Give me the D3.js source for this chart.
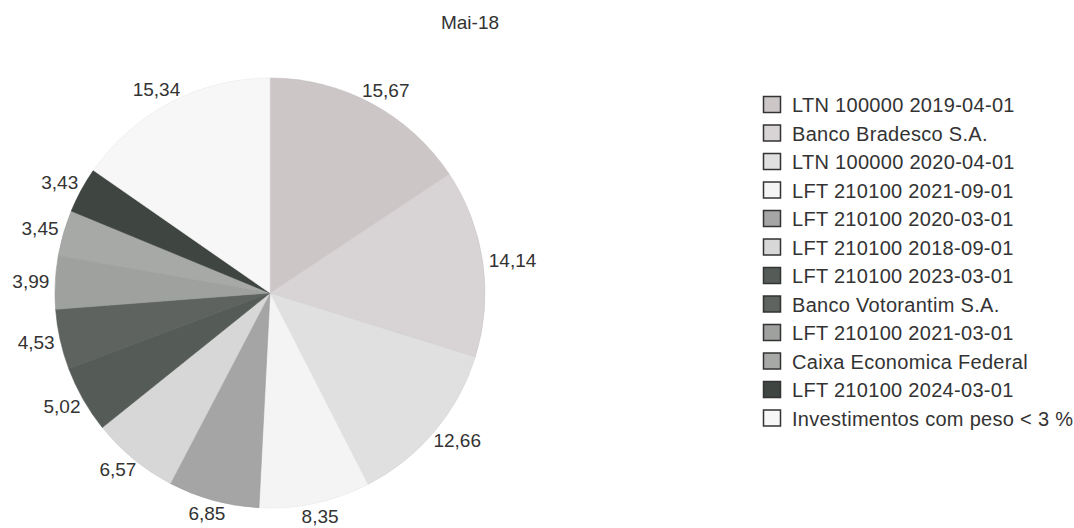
<!DOCTYPE html>
<html>
<head>
<meta charset="utf-8">
<script src="https://cdn.jsdelivr.net/npm/d3@7"></script>
<style>
  body { margin: 0; background: #fff; }
  svg text { font-family: "Liberation Sans", Arial, sans-serif; fill: #333; }
</style>
</head>
<body>
<svg id="chart" width="1074" height="528"></svg>
<script>
// dados do gráfico
const title = "Mai-18";
const categories = [
  "LTN 100000 2019-04-01",
  "Banco Bradesco S.A.",
  "LTN 100000 2020-04-01",
  "LFT 210100 2021-09-01",
  "LFT 210100 2020-03-01",
  "LFT 210100 2018-09-01",
  "LFT 210100 2023-03-01",
  "Banco Votorantim S.A.",
  "LFT 210100 2021-03-01",
  "Caixa Economica Federal",
  "LFT 210100 2024-03-01",
  "Investimentos com peso < 3 %"
];
const values = [15.67, 14.14, 12.66, 8.35, 6.85, 6.57, 5.02, 4.53, 3.99, 3.45, 3.43, 15.34];

// cores (tons de cinza, como no original)
const sliceColors = [
  "#cdc6c7", "#d8d3d4", "#e0e0e0", "#f4f4f4",
  "#a4a5a4", "#d7d7d7", "#555c57", "#5e635f",
  "#9fa19f", "#a7a9a7", "#3f4641", "#f7f7f7"
];

const cx = 270, cy = 293, radius = 215;
const labelGap = 6;

const svg = d3.select("#chart");
const locale = d3.formatLocale({ decimal: ",", thousands: ".", grouping: [3], currency: ["R$", ""] });
const fmt = locale.format(".2f");

const color = d3.scaleOrdinal().domain(categories).range(sliceColors);

svg.append("text")
  .attr("x", 470)
  .attr("y", 29)
  .attr("text-anchor", "middle")
  .attr("font-size", 19)
  .text(title);

const data = categories.map((c, i) => ({ name: c, value: values[i] }));

const pie = d3.pie().value((d) => d.value).sort(null);
const arcs = pie(data);

const arc = d3.arc().innerRadius(0).outerRadius(radius);
const labelArc = d3.arc().innerRadius(radius + labelGap).outerRadius(radius + labelGap);

const g = svg.append("g").attr("transform", `translate(${cx},${cy})`);

g.selectAll("path")
  .data(arcs)
  .join("path")
  .attr("d", arc)
  .attr("fill", (d) => color(d.data.name))
  .attr("stroke", (d) => d3.color(color(d.data.name)).darker(0.15))
  .attr("stroke-width", 0.6);

// rótulos fora do setor: o canto mais próximo encosta no ponto de referência
const labels = g.selectAll("text.lbl")
  .data(arcs)
  .join("text")
  .attr("class", "lbl")
  .attr("font-size", 19)
  .attr("text-anchor", "middle")
  .text((d) => fmt(d.data.value));

labels.each(function (d) {
  const box = this.getBBox();
  const [px, py] = labelArc.centroid(d);
  const a = (d.startAngle + d.endAngle) / 2;
  const ux = Math.sin(a), uy = -Math.cos(a);
  const x = px + ux * box.width / 2;
  const y = py + uy * (box.height - 4) / 2;
  d3.select(this).attr("x", x).attr("y", y + 6);
});

// legenda
const legendY = d3.scalePoint().domain(categories).range([105, 418.5]);
const legend = svg.append("g").attr("transform", "translate(763,0)");

const rows = legend.selectAll("g")
  .data(categories)
  .join("g")
  .attr("transform", (d) => `translate(0,${legendY(d)})`);

rows.append("rect")
  .attr("x", 0.5)
  .attr("y", -8.5)
  .attr("width", 17)
  .attr("height", 16)
  .attr("fill", (d) => color(d))
  .attr("stroke", "#333")
  .attr("stroke-width", 1.5);

rows.append("text")
  .attr("x", 29)
  .attr("y", 7)
  .attr("font-size", 20)
  .attr("letter-spacing", 0.3)
  .text((d) => d);
</script>
</body>
</html>
